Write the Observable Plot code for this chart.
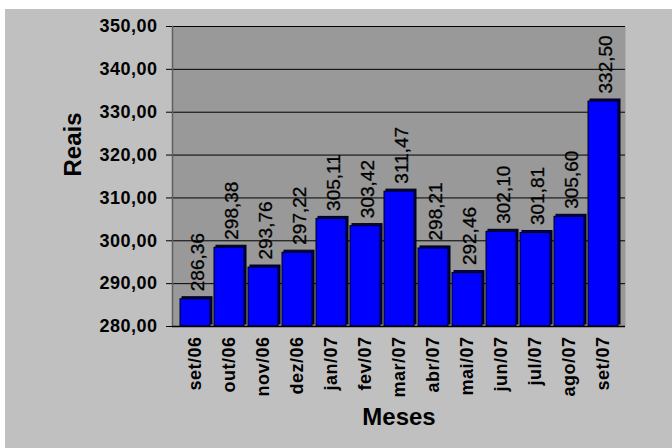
<!DOCTYPE html>
<html>
<head>
<meta charset="utf-8">
<script src="https://cdn.jsdelivr.net/npm/d3@7"></script>
<script src="https://cdn.jsdelivr.net/npm/@observablehq/plot@0.6"></script>
<style>
  html, body { margin: 0; padding: 0; background: #ffffff; }
  #chart svg { display: block; }
</style>
</head>
<body>
<div id="chart"></div>
<script>
const months = ["set/06","out/06","nov/06","dez/06","jan/07","fev/07","mar/07","abr/07","mai/07","jun/07","jul/07","ago/07","set/07"];
const values = [286.36, 298.38, 293.76, 297.22, 305.11, 303.42, 311.47, 298.21, 292.46, 302.10, 301.81, 305.60, 332.50];
const yTicks = [280, 290, 300, 310, 320, 330, 340, 350];

const data = months.map((m, i) => ({month: m, value: values[i]}));
const fmt = d => d.toFixed(2).replace(".", ",");
const font = "Liberation Sans, Arial, sans-serif";

const chart = Plot.plot({
  width: 672,
  height: 448,
  marginLeft: 172,
  marginRight: 47,
  marginTop: 26,
  marginBottom: 122,
  style: {
    fontFamily: font,
    color: "#000",
    background: "linear-gradient(#ffffff, #ffffff) top left / 100% 9px no-repeat, linear-gradient(#ffffff, #ffffff) top left / 5px 100% no-repeat, #c0c0c0"
  },
  x: {domain: months, paddingInner: 0.12, paddingOuter: 0.06, label: null},
  y: {domain: [280, 350], label: null},
  marks: [
    Plot.frame({fill: "#999999", stroke: null}),
    Plot.ruleY(yTicks, {stroke: "#000", strokeWidth: 1}),
    Plot.frame({anchor: "left", stroke: "#606060", strokeWidth: 1.5}),
    Plot.barY(data, {x: "month", y1: 280, y2: "value", fill: "#000070", stroke: "#000", strokeWidth: 1, dx: 2, dy: -2}),
    Plot.barY(data, {x: "month", y1: 280, y2: "value", fill: "#0000ff", stroke: "#000", strokeWidth: 1}),
    Plot.ruleY([280], {stroke: "#000", strokeWidth: 1.5}),
    Plot.axisY({ticks: yTicks, tickFormat: fmt, tickSize: 6, tickPadding: 9, fontSize: 18, fontWeight: "bold", label: null, stroke: "#000"}),
    Plot.axisX({tickRotate: -90, tickSize: 0, tickPadding: 10, fontSize: 18, fontWeight: "bold", label: null}),
    Plot.text(data, {x: "month", y: "value", text: d => fmt(d.value), rotate: -90, textAnchor: "start", dy: -8, dx: 2, fontSize: 19, fill: "#000", stroke: "#000", strokeWidth: 0.3}),
    Plot.text(["Reais"], {frameAnchor: "left", dx: -99, rotate: -90, fontSize: 24, fontWeight: "bold", fill: "#000"}),
    Plot.text(["Meses"], {frameAnchor: "bottom", dy: 98, fontSize: 24, fontWeight: "bold", fill: "#000"})
  ]
});
document.getElementById("chart").appendChild(chart);
d3.select(chart).selectAll("[aria-label='y-axis tick label'] text, [aria-label='x-axis tick label'] text").style("letter-spacing", "0.5px");
</script>
</body>
</html>
